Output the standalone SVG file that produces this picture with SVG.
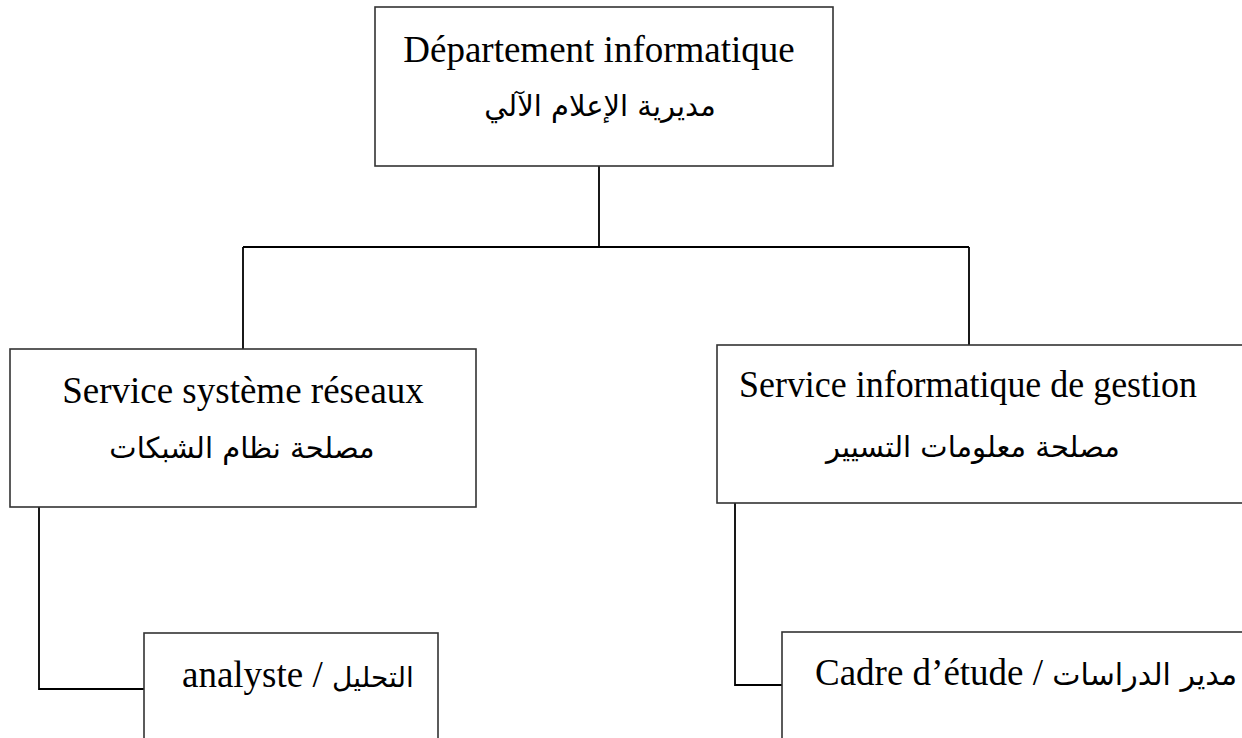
<svg xmlns="http://www.w3.org/2000/svg" width="1242" height="738" viewBox="0 0 1242 738">
  <style>
    .box { fill: #ffffff; stroke: #333333; stroke-width: 1.6; }
    .link { fill: none; stroke: #000000; stroke-width: 1.8; }
    .lat { font-family: 'Liberation Serif', 'Times New Roman', serif; font-size: 37px; fill: #000000; }
    .ar { font-family: 'DejaVu Sans', 'Noto Sans', sans-serif; font-size: 29px; fill: #000000; }
    .mix { font-family: 'Liberation Serif', 'Times New Roman', serif; font-size: 37px; fill: #000000; }
    .mix-ar { font-family: 'DejaVu Sans', 'Noto Sans', sans-serif; font-size: 28px; }
    .mix-ar-wide { font-family: 'DejaVu Sans', 'Noto Sans', sans-serif; font-size: 30px; }
  </style>
  <rect width="1242" height="738" fill="#ffffff"/>

  <!-- connectors -->
  <g id="connectors">
    <path class="link" d="M599 166 V247"/>
    <path class="link" d="M243 247 H969"/>
    <path class="link" d="M243 247 V349"/>
    <path class="link" d="M969 247 V345"/>
    <path class="link" d="M39 507 V689 H144"/>
    <path class="link" d="M735 503 V685 H782"/>
  </g>

  <!-- head of department -->
  <g id="node-departement">
    <rect class="box" x="375" y="7" width="458" height="159"/>
    <text class="lat" x="599" y="62" text-anchor="middle">Département informatique</text>
    <text class="ar" x="600" y="116" text-anchor="middle" direction="rtl">مديرية الإعلام الآلي</text>
  </g>

  <!-- network systems service -->
  <g id="node-reseaux">
    <rect class="box" x="10" y="349" width="466" height="158"/>
    <text class="lat" x="243" y="403" text-anchor="middle">Service système réseaux</text>
    <text class="ar" x="242" y="458" text-anchor="middle" direction="rtl">مصلحة نظام الشبكات</text>
  </g>

  <!-- management IT service (runs off the right edge) -->
  <g id="node-gestion">
    <rect class="box" x="717" y="345" width="540" height="158"/>
    <text class="lat" x="968" y="397" text-anchor="middle" textLength="458" lengthAdjust="spacingAndGlyphs">Service informatique de gestion</text>
    <text class="ar" x="973" y="457" text-anchor="middle" direction="rtl">مصلحة معلومات التسيير</text>
  </g>

  <!-- analyst -->
  <g id="node-analyste">
    <rect class="box" x="144" y="633" width="294" height="120"/>
    <text class="mix" x="182" y="687">analyste / <tspan class="mix-ar">التحليل</tspan></text>
  </g>

  <!-- study officer -->
  <g id="node-cadre">
    <rect class="box" x="782" y="632" width="480" height="120"/>
    <text class="mix" x="815" y="685">Cadre d’étude / <tspan class="mix-ar-wide">مدير  الدراسات</tspan></text>
  </g>
</svg>
